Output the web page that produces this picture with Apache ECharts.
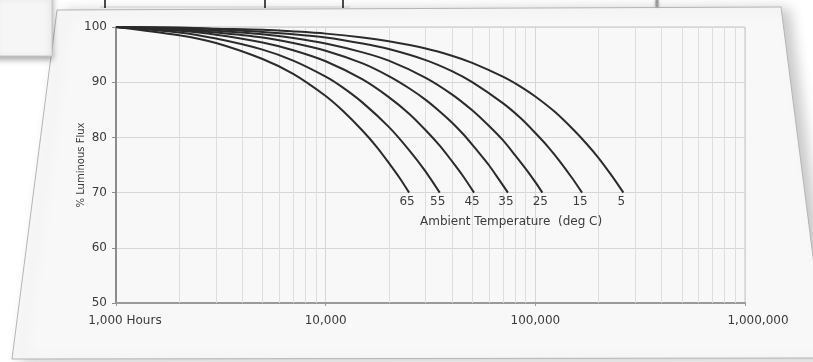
<!DOCTYPE html>
<html><head><meta charset="utf-8">
<script src="https://cdn.jsdelivr.net/npm/echarts@6/dist/echarts.min.js"></script>
<style>html,body{margin:0;padding:0;background:#fff;}#c{width:813px;height:362px;}</style>
</head><body><div id="c"></div>
<script>
// Ambient temperatures (deg C), one curve each
const temps = ['65', '55', '45', '35', '25', '15', '5'];

// Hours / % luminous flux, per curve
const hours65 = [1000, 2000, 3000, 5000, 7000, 10000, 12000, 15000, 17500, 20000, 22500, 25000];
const flux65  = [100, 98.5, 97.1, 94.2, 91.5, 87.5, 84.9, 81.2, 78.3, 75.4, 72.7, 70];

const hours55 = [1000, 2000, 3000, 5000, 7000, 10000, 12000, 15000, 20000, 25000, 30000, 35000];
const flux55  = [100, 99.0, 97.9, 95.9, 93.9, 91.0, 89.1, 86.3, 81.9, 77.7, 73.8, 70];

const hours45 = [1000, 2000, 3000, 5000, 7000, 10000, 15000, 20000, 25000, 30000, 35000, 40000, 45000, 51000];
const flux45  = [100, 99.3, 98.6, 97.2, 95.8, 93.8, 90.5, 87.3, 84.3, 81.3, 78.5, 75.7, 73.1, 70];

const hours35 = [1000, 2000, 3000, 5000, 7000, 10000, 15000, 20000, 25000, 30000, 35000, 40000, 45000, 50000, 55000, 60000, 67000, 74000];
const flux35  = [100, 99.5, 99.0, 98.1, 97.1, 95.7, 93.4, 91.1, 88.9, 86.8, 84.7, 82.7, 80.7, 78.7, 76.8, 75.0, 72.4, 70];

const hours25 = [1000, 2000, 3000, 5000, 7000, 10000, 15000, 20000, 30000, 40000, 50000, 60000, 70000, 80000, 90000, 100000, 108000];
const flux25  = [100, 99.7, 99.3, 98.7, 98.0, 97.0, 95.4, 93.9, 90.8, 87.8, 84.9, 82.1, 79.5, 76.8, 74.3, 71.9, 70];

const hours15 = [1000, 2000, 3000, 5000, 7000, 10000, 15000, 20000, 30000, 40000, 50000, 70000, 85000, 100000, 115000, 130000, 150000, 167000];
const flux15  = [100, 99.8, 99.6, 99.1, 98.7, 98.1, 97.0, 96.0, 94.0, 92.0, 90.0, 86.2, 83.5, 80.8, 78.3, 75.8, 72.6, 70];

const hours5 = [1000, 2000, 3000, 5000, 7000, 10000, 15000, 20000, 30000, 40000, 50000, 70000, 85000, 100000, 125000, 150000, 175000, 200000, 230000, 263000];
const flux5  = [100, 99.9, 99.7, 99.5, 99.2, 98.8, 98.1, 97.4, 96.1, 94.8, 93.5, 91.0, 89.2, 87.4, 84.5, 81.6, 78.9, 76.3, 73.2, 70];

const hoursByCurve = [hours65, hours55, hours45, hours35, hours25, hours15, hours5];
const fluxByCurve  = [flux65, flux55, flux45, flux35, flux25, flux15, flux5];

// Axis tick labels
const xTickLabels = { 1000: '1,000 Hours', 10000: '10,000', 100000: '100,000', 1000000: '1,000,000' };
const yTickValues = [50, 60, 70, 80, 90, 100];
// Minor log grid lines
const minorGridHours = [2000, 3000, 4000, 5000, 6000, 7000, 8000, 9000,
  20000, 30000, 40000, 50000, 60000, 70000, 80000, 90000,
  200000, 300000, 400000, 500000, 600000, 700000, 800000, 900000];

const FONT = '"DejaVu Sans", Verdana, sans-serif';
const TXT = '#3c3c3c';

const chart = echarts.init(document.getElementById('c'), null, { renderer: 'canvas' });

const curveSeries = temps.map((t, ci) => {
  const hs = hoursByCurve[ci], fs = fluxByCurve[ci];
  return {
    type: 'line', name: t, data: hs.map((h, i) => [h, fs[i]]), smooth: 0.3,
    showSymbol: false, symbol: 'none', z: 5,
    lineStyle: { color: '#2b2b2b', width: 2 },
    endLabel: { show: true, formatter: t, align: 'center', verticalAlign: 'top',
      distance: 0, offset: [-2, 3], fontFamily: FONT, fontSize: 12, color: TXT },
    animation: false
  };
});

const gridSeries = {
  type: 'line', data: [], z: 1, silent: true, animation: false,
  markLine: {
    silent: true, animation: false, symbol: ['none', 'none'],
    label: { show: false },
    lineStyle: { color: '#dedede', width: 1, type: 'solid' },
    emphasis: { disabled: true },
    data: minorGridHours.map(h => ({ xAxis: h }))
  }
};

const option = {
  backgroundColor: '#ffffff',
  animation: false,
  graphic: [
    { type: 'polygon', z: -100, silent: true,
      shape: { points: [[57, 10], [781, 7], [826, 358], [12, 359]] },
      style: { fill: '#f8f8f8', stroke: '#b5b5b5', lineWidth: 1,
        shadowBlur: 14, shadowColor: 'rgba(0,0,0,0.22)', shadowOffsetX: 8, shadowOffsetY: 2 } },
    { type: 'rect', z: -90, silent: true,
      shape: { x: -6, y: -6, width: 58, height: 62 },
      style: { fill: '#f6f6f6', stroke: '#c8c8c8', lineWidth: 1,
        shadowBlur: 6, shadowColor: 'rgba(0,0,0,0.35)', shadowOffsetY: 3 } },
    { type: 'line', z: -80, silent: true, shape: { x1: 100, y1: 7, x2: 350, y2: 7 },
      style: { stroke: '#cfcfcf', lineWidth: 1 } },
    { type: 'line', z: -80, silent: true, shape: { x1: 105, y1: 0, x2: 105, y2: 8 },
      style: { stroke: '#111', lineWidth: 1.5 } },
    { type: 'line', z: -80, silent: true, shape: { x1: 265, y1: 0, x2: 265, y2: 8 },
      style: { stroke: '#111', lineWidth: 1.5 } },
    { type: 'line', z: -80, silent: true, shape: { x1: 343, y1: 0, x2: 343, y2: 8 },
      style: { stroke: '#111', lineWidth: 1.5 } },
    { type: 'line', z: -80, silent: true, shape: { x1: 657, y1: 0, x2: 657, y2: 7 },
      style: { stroke: '#9a9a9a', lineWidth: 3, shadowBlur: 3, shadowColor: 'rgba(0,0,0,0.3)' } },
    { type: 'text', z: 10, silent: true, left: 420, top: 216,
      style: { text: 'Ambient Temperature  (deg C)', fontFamily: FONT, fontSize: 12, fill: TXT } }
  ],
  grid: { left: 116, right: 68, top: 27, bottom: 59, show: true,
    borderColor: '#c4c4c4', borderWidth: 1, backgroundColor: 'transparent', containLabel: false },
  xAxis: {
    type: 'log', logBase: 10, min: 1000, max: 1000000,
    axisLine: { show: true, lineStyle: { color: '#9a9a9a', width: 2 } },
    axisTick: { show: true, length: 3, lineStyle: { color: '#9a9a9a' } },
    splitLine: { show: true, lineStyle: { color: '#d6d6d6', width: 1 } },
    minorTick: { show: false }, minorSplitLine: { show: false },
    axisLabel: {
      margin: 12, fontFamily: FONT, fontSize: 12, color: TXT,
      formatter: v => {
        const s = xTickLabels[Math.round(v)] || '';
        if (Math.round(v) === 1000) return '{a|' + s + '}';
        if (Math.round(v) === 1000000) return '{b|' + s + '}';
        return s;
      },
      rich: {
        a: { padding: [0, 0, 0, 18], fontFamily: FONT, fontSize: 12, color: TXT },
        b: { padding: [0, 0, 0, 26], fontFamily: FONT, fontSize: 12, color: TXT }
      }
    }
  },
  yAxis: {
    type: 'value', min: yTickValues[0], max: yTickValues[yTickValues.length - 1], interval: 10,
    name: '% Luminous Flux', nameLocation: 'middle', nameGap: 30, nameRotate: 90,
    nameMoveOverlap: false,
    nameTextStyle: { fontFamily: FONT, fontSize: 10, color: TXT },
    axisLine: { show: true, lineStyle: { color: '#8c8c8c', width: 2 } },
    axisTick: { show: true, length: 4, lineStyle: { color: '#8c8c8c' } },
    splitLine: { show: true, lineStyle: { color: '#d6d6d6', width: 1 } },
    axisLabel: { margin: 9, fontFamily: FONT, fontSize: 12, color: TXT }
  },
  series: [gridSeries].concat(curveSeries)
};
chart.setOption(option);
</script>
</body></html>
